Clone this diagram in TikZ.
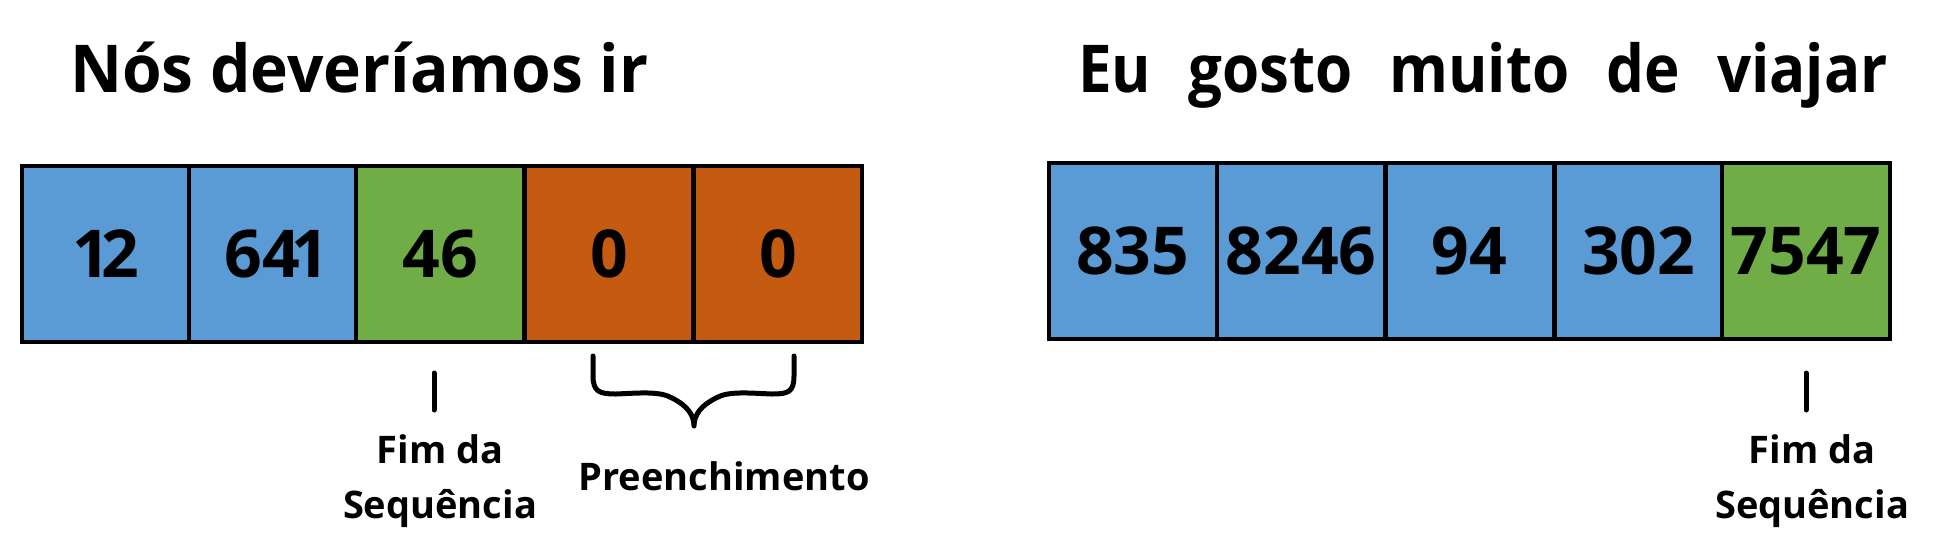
\documentclass[tikz,border=0pt]{standalone}
\usepackage{fontspec}
\setmainfont{Open Sans}[BoldFont={* Bold}]
\newfontfamily\numfont{Open Sans Bold}
\newfontfamily\titleAfont{Open Sans Bold}[FakeStretch=0.97]
\newfontfamily\titleBfont{Open Sans Bold}[FakeStretch=0.91]
\definecolor{cblue}{HTML}{5B9BD5}
\definecolor{cgreen}{HTML}{70AD47}
\definecolor{corange}{HTML}{C55A11}
\begin{document}
\begin{tikzpicture}[x=1pt,y=-1pt,
  cell/.style={draw=black, line width=4pt, minimum width=168pt, minimum height=176pt,
    inner sep=0pt, outer sep=0pt, font=\fontsize{66}{66}\numfont},
  title/.style={anchor=base west, inner sep=0pt},
  lbl/.style={align=center, inner sep=0pt, font=\fontsize{38}{55}\selectfont\bfseries},
  tickline/.style={line width=5pt, line cap=round, line join=round}]
\useasboundingbox (0,0) rectangle (1946,544);
% left panel
\node[title, font=\fontsize{66}{66}\titleAfont] (t1) at (70,92) {Nós deveríamos ir};
\node[cell, fill=cblue]   (a1) at (106,253.5) {1\kern-9pt 2};
\node[cell, fill=cblue]   (a2) at (273,253.5) {64\kern-8pt 1\kern-8pt};
\node[cell, fill=cgreen]  (a3) at (440,253.5) {46};
\node[cell, fill=corange] (a4) at (609,253.5) {0};
\node[cell, fill=corange] (a5) at (778,253.5) {0};
\coordinate (k1a) at (434,373);
\coordinate (k1b) at (434,410);
\draw[tickline] (k1a) -- (k1b);
\node[lbl, anchor=base] (f1) at (440,518) {Fim da\\Sequência};
\coordinate (bl) at (593,356);
\coordinate (br) at (794,356);
\coordinate (bt) at (694,426);
\draw[tickline] (bl) -- (593,376) .. controls (593,392) and (600,394) .. (616,394)
  .. controls (640,393) and (660,391) .. (672,398) .. controls (686,405) and (694,414) .. (bt)
  .. controls (694,414) and (702,405) .. (716,398) .. controls (728,391) and (748,393) .. (772,394)
  .. controls (788,394) and (794,392) .. (794,376) -- (br);
\node[lbl, anchor=base] (p1) at (724,490) {Preenchimento};
% right panel
\node[title, font=\fontsize{66}{66}\titleBfont] (t2) at (1078,92) {Eu\hspace{37pt}gosto\hspace{37pt}muito\hspace{37pt}de\hspace{37pt}viajar};
\node[cell, fill=cblue]  (b1) at (1132.5,251) {835};
\node[cell, fill=cblue]  (b2) at (1301,251) {8246};
\node[cell, fill=cblue]  (b3) at (1469.5,251) {94};
\node[cell, fill=cblue]  (b4) at (1638.5,251) {302};
\node[cell, fill=cgreen] (b5) at (1806,251) {7547};
\coordinate (k2a) at (1806,373);
\coordinate (k2b) at (1806,410);
\draw[tickline] (k2a) -- (k2b);
\node[lbl, anchor=base] (f2) at (1812,518) {Fim da\\Sequência};
\end{tikzpicture}
\end{document}
